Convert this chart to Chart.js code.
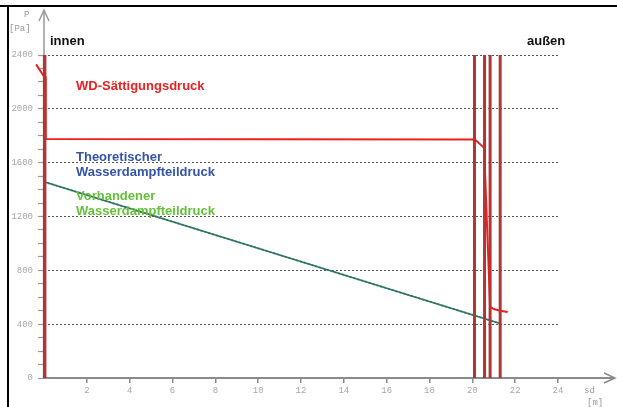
<!DOCTYPE html>
<html>
<head>
<meta charset="utf-8">
<script src="https://cdn.jsdelivr.net/npm/chart.js@4/dist/chart.umd.min.js"></script>
<style>
  html, body { margin: 0; padding: 0; background: #fff; }
  #wrap { width: 617px; height: 407px; }
</style>
</head>
<body>
<div id="wrap"><canvas id="c" width="617" height="407"></canvas></div>
<script>
// Diffusion diagram of a wall build-up: pressure over diffusion-equivalent thickness sd
const pTicks = [0, 400, 800, 1200, 1600, 2000, 2400];     // labelled pressure ticks [Pa]
const sdTicks = [2, 4, 6, 8, 10, 12, 14, 16, 18, 20, 22, 24]; // labelled sd ticks [m]

// Layer boundaries (sd position of each interface)
const layerBoundaries = [0.03, 20.10, 20.57, 20.83, 21.30];

// Saturation vapour pressure (WD-Sättigungsdruck)
const satX = [-0.37, 0.0, 0.08, 0.08, 20.12, 20.55, 20.83, 21.0, 21.3, 21.65];
const satP = [2330, 2240, 2235, 1775, 1772, 1710, 530, 512, 500, 490];

// Partial vapour pressure, theoretical and actual (coincide)
const vapX = [0.0, 21.30];
const theoP = [1458, 405];
const actP = [1458, 405];

const pts = (xs, ys) => xs.map((x, i) => ({ x: x, y: ys[i] }));

const datasets = [];
layerBoundaries.forEach((b, i) => {
  datasets.push({
    data: [{ x: b, y: 0 }, { x: b, y: 2400 }],
    borderColor: '#b23535',
    borderWidth: i === 0 ? 3.5 : 3,
    pointRadius: 0,
    clip: false
  });
});
datasets.push({
  data: pts(vapX, theoP),
  borderColor: '#2f6e72',
  borderWidth: 1.6,
  pointRadius: 0,
  clip: false
});
datasets.push({
  data: pts(vapX, actP),
  borderColor: '#6cc040',
  borderWidth: 2,
  borderDash: [2, 2],
  pointRadius: 0,
  clip: false
});
datasets.push({
  data: pts(satX, satP),
  borderColor: '#ee1f1f',
  borderWidth: 2,
  pointRadius: 0,
  clip: false
});

const decor = {
  id: 'decor',
  beforeDraw(chart) {
    const ctx = chart.ctx;
    ctx.save();
    ctx.fillStyle = '#fff';
    ctx.fillRect(0, 0, chart.width, chart.height);
    ctx.restore();
  },
  beforeDatasetsDraw(chart) {
    const ctx = chart.ctx;
    const xs = chart.scales.x, ys = chart.scales.y;
    const x0 = xs.getPixelForValue(0), y0 = ys.getPixelForValue(0);
    ctx.save();
    // pressure axis with arrow
    ctx.strokeStyle = '#9a9a9a';
    ctx.lineWidth = 1.5;
    ctx.beginPath();
    ctx.moveTo(x0, y0);
    ctx.lineTo(x0, 11);
    ctx.stroke();
    ctx.beginPath();
    ctx.moveTo(x0 - 5, 21);
    ctx.lineTo(x0, 10);
    ctx.lineTo(x0 + 5, 21);
    ctx.stroke();
    // sd axis with arrow
    ctx.strokeStyle = '#8a8a8a';
    ctx.lineWidth = 2;
    ctx.beginPath();
    ctx.moveTo(x0, y0);
    ctx.lineTo(614, y0);
    ctx.stroke();
    ctx.lineWidth = 1.5;
    ctx.beginPath();
    ctx.moveTo(604, y0 - 5);
    ctx.lineTo(615, y0);
    ctx.lineTo(604, y0 + 5);
    ctx.stroke();
    ctx.restore();
  },
  afterDraw(chart) {
    const ctx = chart.ctx;
    ctx.save();
    // frame
    ctx.fillStyle = '#000';
    ctx.fillRect(0, 5, 617, 2);
    ctx.fillRect(7, 5, 2, 402);
    // axis titles
    ctx.fillStyle = '#999';
    ctx.font = '9px "Liberation Mono", monospace';
    ctx.textBaseline = 'middle';
    ctx.textAlign = 'left';
    ctx.fillText('P', 24, 15);
    ctx.fillText('[Pa]', 9, 29);
    ctx.fillText('sd', 584, 391);
    ctx.fillText('[m]', 587, 403);
    // side labels
    ctx.fillStyle = '#111';
    ctx.font = 'bold 13px "Liberation Sans", Arial, sans-serif';
    ctx.fillText('innen', 50, 41);
    ctx.fillText('außen', 527, 41);
    // series labels
    ctx.fillStyle = '#ee2020';
    ctx.fillText('WD-Sättigungsdruck', 76, 86);
    ctx.fillStyle = '#3553a8';
    ctx.fillText('Theoretischer', 76, 157);
    ctx.fillText('Wasserdampfteildruck', 76, 172);
    ctx.fillStyle = '#66bf3a';
    ctx.fillText('Vorhandener', 76, 196);
    ctx.fillText('Wasserdampfteildruck', 76, 211);
    ctx.restore();
  }
};

new Chart(document.getElementById('c'), {
  type: 'line',
  data: { datasets: datasets },
  plugins: [decor],
  options: {
    responsive: false,
    animation: false,
    devicePixelRatio: 1,
    layout: { padding: { top: 55, right: 59, left: 0, bottom: 0 } },
    plugins: { legend: { display: false }, tooltip: { enabled: false } },
    scales: {
      x: {
        type: 'linear',
        min: 0,
        max: 24,
        afterFit(s) { s.height = 29; },
        border: { display: false },
        grid: {
          drawOnChartArea: false,
          tickLength: 5,
          tickColor: (c) => (c.tick && c.tick.value === 0 ? 'transparent' : '#8a8a8a'),
          lineWidth: 1.5
        },
        ticks: {
          stepSize: 2,
          maxRotation: 0,
          autoSkip: false,
          padding: 2,
          color: '#a8a8a8',
          font: { family: '"Liberation Mono", monospace', size: 9 },
          callback: (v) => (sdTicks.includes(v) ? String(v) : '')
        }
      },
      y: {
        type: 'linear',
        min: 0,
        max: 2400,
        afterFit(s) { s.width = 44; },
        border: { display: false, dash: [2, 2] },
        grid: {
          color: (c) => (c.tick && pTicks.includes(c.tick.value) ? '#555' : 'transparent'),
          lineWidth: 1,
          tickLength: 6,
          tickColor: '#9a9a9a',
          tickBorderDash: [],
          tickWidth: 1.2
        },
        ticks: {
          stepSize: 100,
          autoSkip: false,
          padding: 5,
          color: '#a8a8a8',
          font: { family: '"Liberation Mono", monospace', size: 9 },
          callback: (v) => (pTicks.includes(v) ? String(v) : '')
        }
      }
    }
  }
});
</script>
</body>
</html>
